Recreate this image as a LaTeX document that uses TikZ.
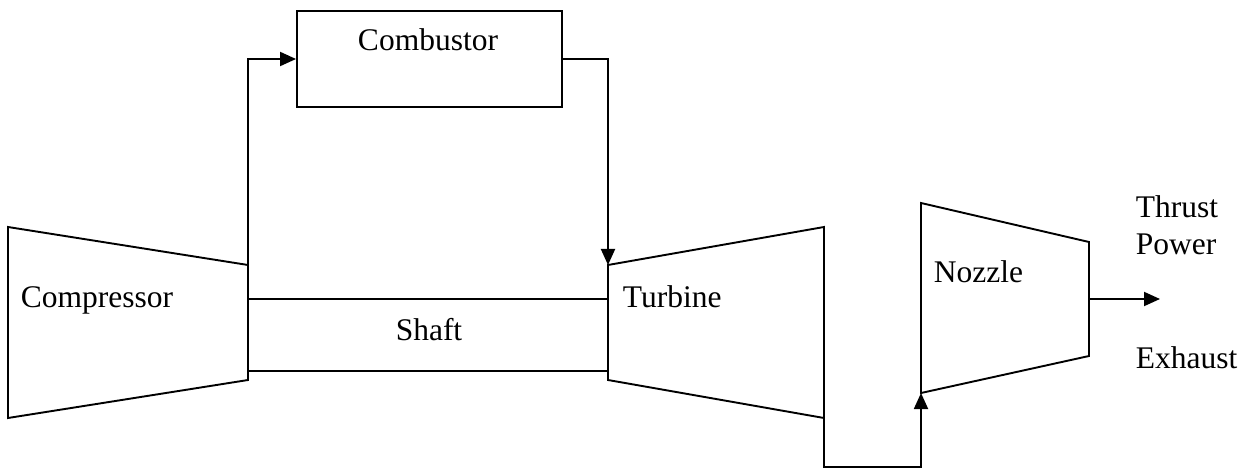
\documentclass[tikz,border=0pt]{standalone}
\usepackage{fontspec}
\setmainfont{Liberation Serif}
\usetikzlibrary{arrows.meta}
\begin{document}
\begin{tikzpicture}[x=1pt,y=-1pt,line width=1.9pt,line join=miter,
  part/.style={draw},
  lbl/.style={font=\fontsize{31.5}{37}\selectfont,inner sep=0pt},
  flow/.style={-{Triangle[length=16pt,width=14pt]}}]
\useasboundingbox (0,0) rectangle (1247,470);
% compressor
\coordinate (c1) at (8,227);
\coordinate (c2) at (248,265);
\coordinate (c3) at (248,380);
\coordinate (c4) at (8,418);
\draw[part] (c1) -- (c2) -- (c3) -- (c4) -- cycle;
% turbine
\coordinate (t1) at (608,265);
\coordinate (t2) at (824,227);
\coordinate (t3) at (824,418);
\coordinate (t4) at (608,380);
\draw[part] (t1) -- (t2) -- (t3) -- (t4) -- cycle;
% shaft
\coordinate (s1) at (248,299);
\coordinate (s2) at (608,299);
\coordinate (s3) at (608,371);
\coordinate (s4) at (248,371);
\draw[part] (s1) -- (s2) (s4) -- (s3);
% nozzle
\coordinate (n1) at (921,203);
\coordinate (n2) at (1089,242);
\coordinate (n3) at (1089,356);
\coordinate (n4) at (921,393);
\draw[part] (n1) -- (n2) -- (n3) -- (n4) -- cycle;
\coordinate (nout) at (1089,299);
\coordinate (out) at (1160,299);
% combustor
\node[draw,minimum width=265pt,minimum height=96pt,inner sep=0pt] (comb) at (429.5,59) {};
% labels
\node[lbl,anchor=base] (combl) at (428,51) {Combustor};
\node[lbl,anchor=base west] (compl) at (20,308) {Compressor};
\node[lbl,anchor=base] (shaftl) at (429,340) {Shaft};
\node[lbl,anchor=base west] (turbl) at (622,308) {Turbine};
\node[lbl,anchor=base west] (nozl) at (933,283) {Nozzle};
\node[lbl,anchor=base west] (thrl) at (1135,218) {Thrust};
\node[lbl,anchor=base west] (powl) at (1135,255) {Power};
\node[lbl,anchor=base west] (exhl) at (1135,368) {Exhaust};
% connectors
\draw[flow] (c2) |- (comb.west);
\draw[flow] (comb.east) -| (t1);
\draw[flow] (t3) -- ++(0,49) -| (n4);
\draw[flow] (nout) -- (out);
\end{tikzpicture}
\end{document}
